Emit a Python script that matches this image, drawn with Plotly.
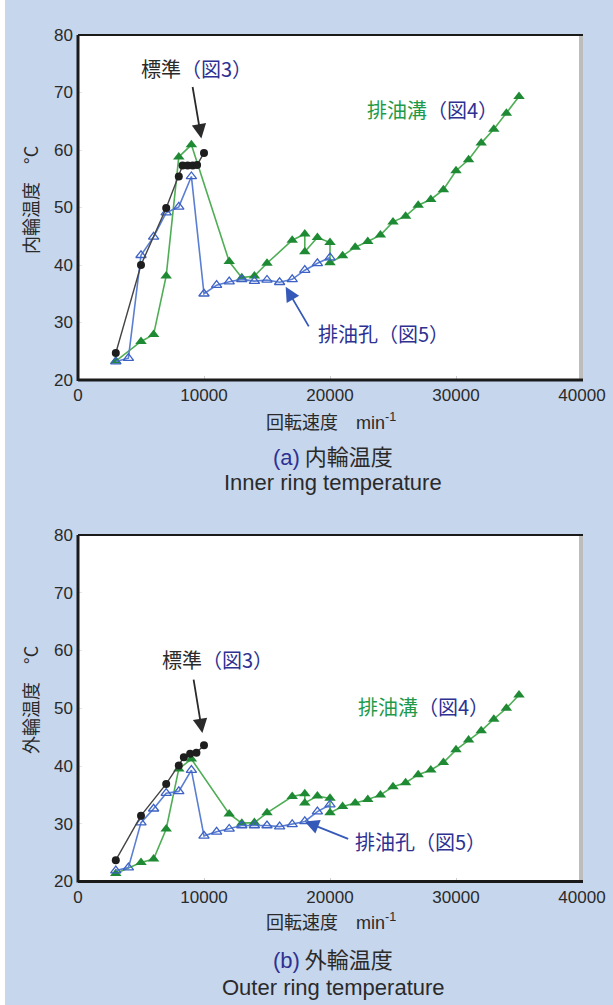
import plotly.graph_objects as go

# ---------------- data: (a) inner ring temperature ----------------
a_std_x = [3000, 5000, 7000, 8000, 8300, 8700, 9100, 9450, 10000]
a_std_y = [24.7, 40.0, 49.9, 55.4, 57.3, 57.3, 57.3, 57.4, 59.5]

a_hole_x = [3000, 4000, 5000, 6000, 7000, 8000, 9000, 10000, 11000, 12000, 13000,
            14000, 15000, 16000, 17000, 18000, 19000, 20000]
a_hole_y = [23.2, 23.8, 41.7, 44.9, 49.1, 50.1, 55.4, 35.0, 36.5, 37.1, 37.5,
            37.2, 37.4, 37.0, 37.5, 39.1, 40.3, 41.3]

a_groove_x = [3000, 5000, 6000, 7000, 8000, 9000, 12000, 13000, 14000, 15000, 17000,
              18000, 18000, 19000, 20000, 20000, 21000, 22000, 23000, 24000, 25000,
              26000, 27000, 28000, 29000, 30000, 31000, 32000, 33000, 34000, 35000]
a_groove_y = [23.3, 26.7, 27.9, 38.1, 58.8, 60.9, 40.6, 37.8, 38.1, 40.3, 44.3,
              45.4, 42.3, 44.8, 43.9, 40.4, 41.6, 43.1, 44.1, 45.2, 47.5,
              48.5, 50.4, 51.4, 53.1, 56.4, 58.3, 61.2, 63.6, 66.4, 69.3]

# ---------------- data: (b) outer ring temperature ----------------
b_std_x = [3000, 5000, 7000, 8000, 8400, 8900, 9400, 10000]
b_std_y = [23.7, 31.4, 36.9, 40.1, 41.5, 42.1, 42.3, 43.6]

b_hole_x = [3000, 4000, 5000, 6000, 7000, 8000, 9000, 10000, 11000, 12000, 13000,
            14000, 15000, 16000, 17000, 18000, 19000, 20000]
b_hole_y = [21.9, 22.4, 30.2, 32.6, 35.3, 35.6, 39.3, 27.9, 28.6, 29.1, 29.7,
            29.7, 29.7, 29.5, 29.9, 30.4, 32.1, 33.3]

b_groove_x = [3000, 5000, 6000, 7000, 8000, 9000, 12000, 13000, 14000, 15000, 17000,
              18000, 18000, 19000, 20000, 20000, 21000, 22000, 23000, 24000, 25000,
              26000, 27000, 28000, 29000, 30000, 31000, 32000, 33000, 34000, 35000]
b_groove_y = [21.4, 23.3, 23.9, 29.1, 39.5, 41.2, 31.7, 30.1, 30.2, 31.9, 34.7,
              35.2, 33.6, 34.8, 34.4, 31.9, 33.0, 33.6, 34.2, 35.0, 36.4,
              37.1, 38.5, 39.3, 40.6, 42.8, 44.5, 46.1, 48.1, 50.0, 52.3]

x_ticks = [0, 10000, 20000, 30000, 40000]
y_ticks = [20, 30, 40, 50, 60, 70, 80]

# ---------------- styling ----------------
BG = "#c6d6ec"
NAVY = "#2e3192"
GREEN_TXT = "#1e9a4a"
GREEN_LINE = "#4fae55"
GREEN_MK = "#1f8a34"
BLUE_LINE = "#5a7fd2"
BLUE_MK = "#3d62c4"
BLACK = "#1e1e1e"
TXT = "#2a2a2a"
CJK = "Noto Sans CJK JP"
LAT = "Liberation Sans Narrow, Liberation Sans, Arial"
HEL = "Liberation Sans, Arial"

W, H = 613, 1005
px = lambda v: v / W
py = lambda v: 1 - v / H

fig = go.Figure()


def add_series(xa, ya, gx, gy, hx, hy, sx, sy):
    fig.add_trace(go.Scatter(x=gx, y=gy, mode="lines+markers", xaxis=xa, yaxis=ya,
                             line=dict(color=GREEN_LINE, width=1.6),
                             marker=dict(symbol="triangle-up", size=10, color=GREEN_MK),
                             showlegend=False, cliponaxis=False))
    fig.add_trace(go.Scatter(x=hx, y=hy, mode="lines+markers", xaxis=xa, yaxis=ya,
                             line=dict(color=BLUE_LINE, width=1.6),
                             marker=dict(symbol="triangle-up-open", size=9, color=BLUE_MK,
                                         line=dict(width=1.3)),
                             showlegend=False, cliponaxis=False))
    fig.add_trace(go.Scatter(x=sx, y=sy, mode="lines+markers", xaxis=xa, yaxis=ya,
                             line=dict(color="#444444", width=1.4),
                             marker=dict(symbol="circle", size=8, color=BLACK),
                             showlegend=False, cliponaxis=False))


add_series("x", "y", a_groove_x, a_groove_y, a_hole_x, a_hole_y, a_std_x, a_std_y)
add_series("x2", "y2", b_groove_x, b_groove_y, b_hole_x, b_hole_y, b_std_x, b_std_y)

L, R = 78, 582
panels = [(35, 380), (535, 881.5)]

axis_common = dict(range=[0, 40000], tickvals=x_ticks, ticktext=[str(v) for v in x_ticks],
                   showgrid=False, zeroline=False, showline=False, automargin=False,
                   ticks="inside", ticklen=4, tickcolor="#cfcfcf",
                   tickfont=dict(family=LAT, size=17, color=TXT), ticklabelstandoff=3)
yaxis_common = dict(range=[20, 80], tickvals=y_ticks, showgrid=False, zeroline=False,
                    showline=False, automargin=False, ticks="inside", ticklen=4,
                    tickcolor="#e3e3e3",
                    tickfont=dict(family=LAT, size=17, color=TXT), ticklabelstandoff=4)

fig.update_layout(
    template="none",
    width=W, height=H, autosize=False, margin=dict(l=0, r=0, t=0, b=0, pad=0),
    paper_bgcolor=BG, plot_bgcolor="white", showlegend=False,
    xaxis=dict(domain=[px(L), px(R)], anchor="y", **axis_common),
    yaxis=dict(domain=[py(panels[0][1]), py(panels[0][0])], anchor="x", **yaxis_common),
    xaxis2=dict(domain=[px(L), px(R)], anchor="y2", **axis_common),
    yaxis2=dict(domain=[py(panels[1][1]), py(panels[1][0])], anchor="x2", **yaxis_common),
)

shapes = [dict(type="rect", xref="paper", yref="paper", x0=0, x1=px(5), y0=0, y1=1,
               fillcolor="white", line=dict(width=0), layer="below")]
for top, bot in panels:
    shapes += [
        dict(type="line", xref="paper", yref="paper", x0=px(R - 1), x1=px(R - 1),
             y0=py(bot), y1=py(top), line=dict(color="#bdbdbd", width=4)),
        dict(type="line", xref="paper", yref="paper", x0=px(L), x1=px(R + 1),
             y0=py(top), y1=py(top), line=dict(color="#1a1a1a", width=2.2)),
        dict(type="line", xref="paper", yref="paper", x0=px(L), x1=px(L),
             y0=py(bot + 1), y1=py(top), line=dict(color="#1a1a1a", width=3)),
        dict(type="line", xref="paper", yref="paper", x0=px(L), x1=px(R + 1),
             y0=py(bot), y1=py(bot), line=dict(color="#1a1a1a", width=3)),
    ]
fig.update_layout(shapes=shapes)

ann = []


def txt(x, y, text, size, color=TXT, family=CJK, textangle=0, xanchor="center"):
    ann.append(dict(xref="paper", yref="paper", x=px(x), y=py(y), text=text,
                    showarrow=False, font=dict(family=family, size=size, color=color),
                    textangle=textangle, xanchor=xanchor, yanchor="middle"))


# axis titles and captions
txt(30, 200, "内輪温度　°C", 18, textangle=-90)
txt(30, 700, "外輪温度　°C", 18, textangle=-90)
txt(331, 421, f"回転速度　<span style='font-family:{HEL}'>min<sup>-1</sup></span>", 18)
txt(331, 921, f"回転速度　<span style='font-family:{HEL}'>min<sup>-1</sup></span>", 18)
txt(333, 455, f"<span style='color:{NAVY};font-family:{HEL}'>(a)</span> 内輪温度", 22)
txt(333, 958, f"<span style='color:{NAVY};font-family:{HEL}'>(b)</span> 外輪温度", 22)
txt(333, 483, "Inner ring temperature", 22, family=HEL)
txt(333, 987, "Outer ring temperature", 22, family=HEL)


def label(xa, ya, x, y, text, size=20):
    ann.append(dict(xref=xa, yref=ya, x=x, y=y, text=text, showarrow=False,
                    font=dict(family=CJK, size=size, color=TXT),
                    xanchor="center", yanchor="middle"))


def arrow(xa, ya, x, y, ax, ay, color):
    ann.append(dict(xref=xa, yref=ya, x=x, y=y, ax=ax, ay=ay, axref="pixel", ayref="pixel",
                    text="", showarrow=True, arrowhead=2, arrowsize=1.6, arrowwidth=1.8,
                    arrowcolor=color))


std_lbl = f"標準<span style='color:{NAVY}'>（図3）</span>"
groove_lbl = f"<span style='color:{GREEN_TXT}'>排油溝</span><span style='color:{NAVY}'>（図4）</span>"
hole_lbl = f"<span style='color:{NAVY}'>排油孔（図5）</span>"

# panel (a)
label("x", "y", 9400, 74.2, std_lbl)
label("x", "y", 28100, 67.1, groove_lbl)
label("x", "y", 24250, 28.1, hole_lbl)
arrow("x", "y", 9790, 62.0, -9, -53, "#2a2a2a")
arrow("x", "y", 16480, 36.2, 24, 41, "#3559b8")
# panel (b)
label("x2", "y2", 11110, 58.4, std_lbl)
label("x2", "y2", 27420, 50.3, groove_lbl)
label("x2", "y2", 27170, 26.9, hole_lbl)
arrow("x2", "y2", 9870, 45.7, -9, -55, "#2a2a2a")
arrow("x2", "y2", 17990, 30.4, 45, 18, "#3559b8")

fig.update_layout(annotations=ann)
fig.write_html("out.html")
